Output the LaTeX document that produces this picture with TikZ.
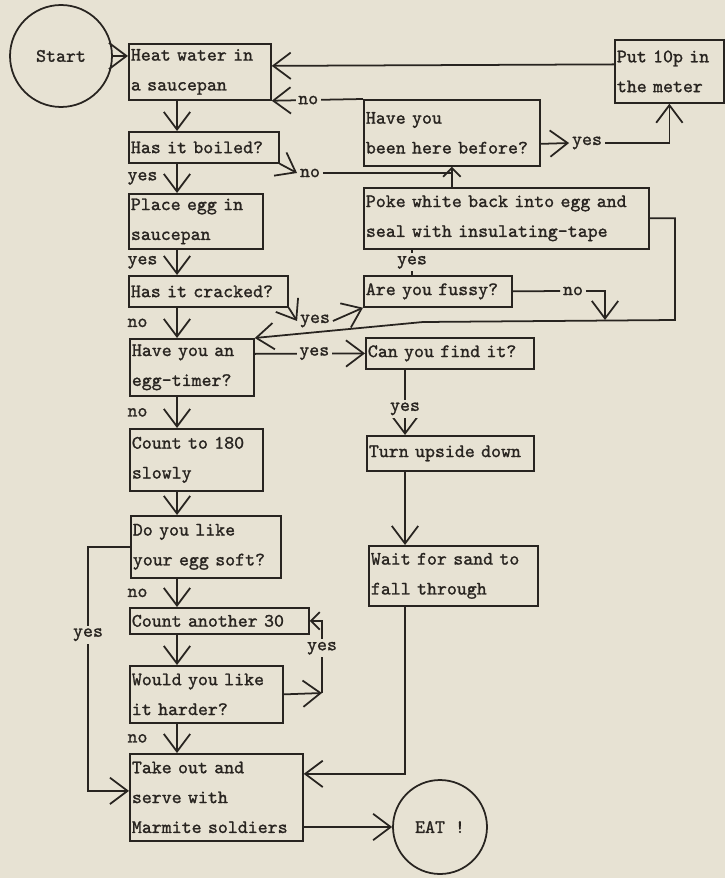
\documentclass[tikz,border=0pt]{standalone}
\usepackage{fontspec}
\usetikzlibrary{arrows.meta}
\newfontfamily\typefont{Latin Modern Mono}[FakeBold=1.2]
\definecolor{paper}{RGB}{231,226,211}
\definecolor{ink}{RGB}{40,36,32}
\newcommand{\typed}{\typefont\fontsize{10.8}{17}\selectfont}

\begin{document}
\begin{tikzpicture}[x=0.02cm,y=-0.02cm,>={Straight Barb[length=10pt,width=15pt]},
  card/.style={draw=ink, line width=1pt, text=ink, anchor=north west, align=left, inner xsep=0.04cm, inner ysep=2pt, font=\typed},
  blob/.style={circle, draw=ink, line width=1pt, text=ink, font=\typed},
  flow/.style={->, draw=ink, line width=1pt},
  small/.style={-{Straight Barb[length=5pt,width=10pt]}},
  wire/.style={draw=ink, line width=1pt},
  tag/.style={fill=paper, text=ink, inner sep=1.5pt, font=\typed},
  side/.style={tag, midway, anchor=west, xshift=-1.06cm}]
\fill[paper] (0,0) rectangle (725,878);
\useasboundingbox (0,0) rectangle (725,878);
\coordinate (spine) at (177,0); \coordinate (rcol) at (405,0); \coordinate (lcol) at (88,0); \coordinate (ycol) at (412,0);
\coordinate (hcorner) at (322,693); \coordinate (rjoin) at (675,320); \coordinate (bend) at (423,322); \coordinate (fjoin) at (605,320);
% left column
\node[blob, minimum size=2.04cm] (start) at (61,56) {Start};
\node[card, text width=2.76cm, minimum height=1.12cm] (heat) at (128,43) {Heat water in\\a saucepan};
\node[card, text width=2.92cm, minimum height=0.62cm] (boiled) at (128,131) {Has it boiled?};
\node[card, text width=2.60cm, minimum height=1.10cm] (place) at (128,193) {Place egg in\\saucepan};
\node[card, text width=3.10cm, minimum height=0.62cm] (cracked) at (128,275) {Has it cracked?};
\node[card, text width=2.40cm, minimum height=1.14cm] (timer) at (129,338) {Have you an\\egg-timer?};
\node[card, text width=2.58cm, minimum height=1.24cm] (count) at (129,428) {Count to 180\\slowly};
\node[card, text width=2.92cm, minimum height=1.24cm] (soft) at (130,515) {Do you like\\your egg soft?};
\node[card, text width=3.50cm, minimum height=0.52cm] (thirty) at (129,607) {Count another 30};
\node[card, text width=2.98cm, minimum height=1.14cm] (harder) at (129,665) {Would you like\\it harder?};
\node[card, text width=3.38cm, minimum height=1.74cm] (takeout) at (129,753) {Take out and\\serve with\\Marmite soldiers};
\node[blob, minimum size=1.88cm] (eat) at (440,827) {EAT !};
% right column
\node[card, text width=3.44cm, minimum height=1.32cm] (before) at (363,99) {Have you\\been here before?};
\node[card, text width=2.10cm, minimum height=1.26cm] (meter) at (614,39) {Put 10p in\\the meter};
\node[card, text width=5.62cm, minimum height=1.22cm] (poke) at (363,187) {Poke white back into egg and\\seal with insulating-tape};
\node[card, text width=2.88cm, minimum height=0.62cm] (fussy) at (363,275) {Are you fussy?};
\node[card, text width=3.28cm, minimum height=0.62cm] (find) at (365,337) {Can you find it?};
\node[card, text width=3.26cm, minimum height=0.70cm] (turn) at (366,435) {Turn upside down};
\node[card, text width=3.30cm, minimum height=1.20cm] (sand) at (368,545) {Wait for sand to\\fall through};
\node[tag] (noboil) at (310,173) {no}; \node[tag] (yesbefore) at (587,143) {yes};
\node[tag] (nofussy) at (573,291) {no}; \node[tag] (yescrack) at (315,321) {yes};
% main spine
\draw[flow] (start.east) -- (start.east -| heat.west);
\draw[flow] (heat.south -| spine) -- (boiled.north -| spine);
\draw[flow] (boiled.south -| spine) -- node[side]{yes} (place.north -| spine);
\draw[flow] (place.south -| spine) -- node[side]{yes} (cracked.north -| spine);
\draw[flow] (cracked.south -| spine) -- node[side]{no} (timer.north -| spine);
\draw[flow] (timer.south -| spine) -- node[side]{no} (count.north -| spine);
\draw[flow] (count.south -| spine) -- (soft.north -| spine);
\draw[flow] (soft.south -| spine) -- node[side]{no} (thirty.north -| spine);
\draw[flow] (thirty.south -| spine) -- (harder.north -| spine);
\draw[flow] (harder.south -| spine) -- node[side]{no} (takeout.north -| spine);
\draw[flow] (eat.west -| takeout.east) -- (eat.west);
% side branches
\draw[flow] ([yshift=0.14cm]meter.west) -- ([yshift=0.12cm]heat.east);
\draw[flow] (before.north west) -- node[tag,pos=0.6]{no} (heat.south east);
\draw[flow] (boiled.south east) -- (noboil.west);
\draw[flow,small] (noboil.east) -| (before.south);
\draw[wire] (poke.north -| before.south) -- (noboil.east -| before.south);
\draw[flow] ([yshift=-0.22cm]before.east) -- (yesbefore.west);
\draw[flow] (yesbefore.east) -| (meter.south);
\draw[wire] (poke.south -| ycol) -- node[tag]{yes} (fussy.north -| ycol);
\draw[flow] (cracked.south east) -- (yescrack.west);
\draw[flow] (yescrack.east) -- (fussy.south west);
\draw[wire] (fussy.east) -- (nofussy.west);
\draw[flow] (nofussy.east) -| (fjoin);
\draw[flow] (poke.east) -| (rjoin) -- (bend) -- (timer.north east);
\draw[flow] ([yshift=0.27cm]timer.east) -- node[tag,pos=0.54]{yes} (find.west);
\draw[flow] (find.south -| rcol) -- node[tag,pos=0.6]{yes} (turn.north -| rcol);
\draw[flow] (turn.south -| rcol) -- (sand.north -| rcol);
\draw[flow] (sand.south -| rcol) |- ([yshift=0.47cm]takeout.east);
\draw[flow] (soft.west) -- (soft.west -| lcol) -- node[tag,pos=0.36]{yes} ([yshift=0.13cm]takeout.west -| lcol) -- ([yshift=0.13cm]takeout.west);
\draw[flow] (harder.east) -- (hcorner);
\draw[flow,small] (hcorner) -- node[tag,pos=0.62]{yes} (thirty.east -| hcorner) -- (thirty.east);
\end{tikzpicture}
\end{document}
